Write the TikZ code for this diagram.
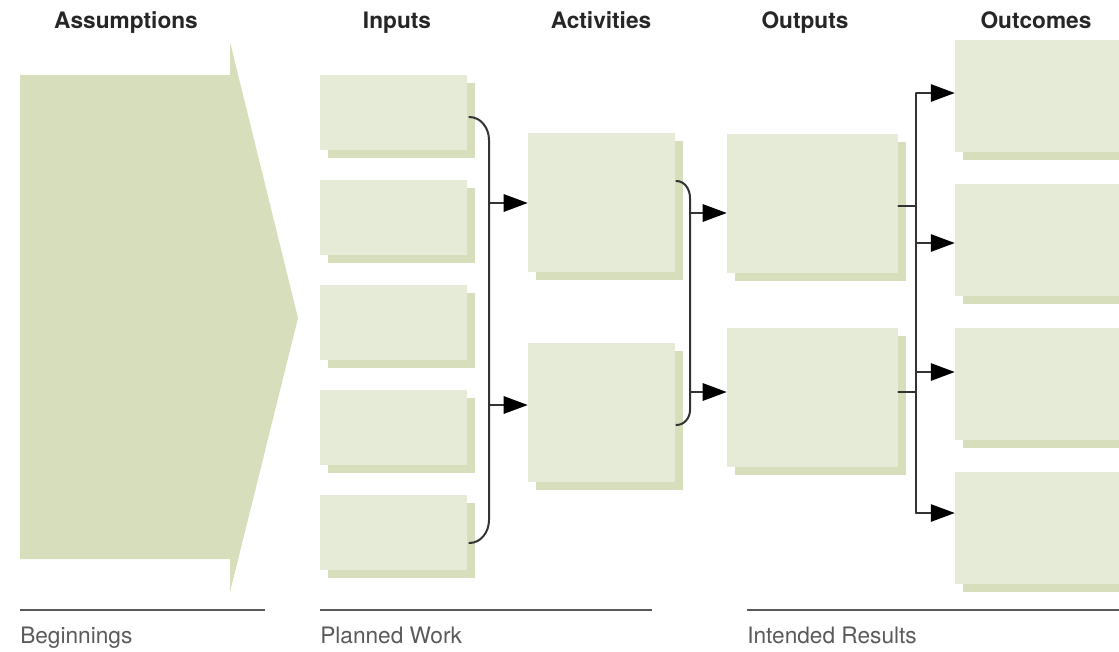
\documentclass[tikz,border=0pt]{standalone}
\usepackage{fontspec}
\setmainfont{TeX Gyre Heros}
\usetikzlibrary{arrows.meta, shadows, calc}

\definecolor{boxgreen}{HTML}{E6EBD8}
\definecolor{shadegreen}{HTML}{D6DEBB}
\definecolor{linegray}{HTML}{333333}
\definecolor{labelgray}{HTML}{5A5A5A}

\tikzset{
  card/.style={fill=boxgreen, inner sep=0pt,
    general shadow={fill=shadegreen, shadow xshift=6pt, shadow yshift=-6pt}},
  inbox/.style={card, minimum width=110.25pt, minimum height=56.25pt},
  actbox/.style={card, minimum width=110.25pt, minimum height=104.25pt},
  outbox/.style={card, minimum width=128.25pt, minimum height=104.25pt},
  resbox/.style={card, minimum width=135pt, minimum height=84pt},
  title/.style={font=\bfseries\fontsize{17}{20}\selectfont, text=black!85,
    inner sep=0pt, anchor=base},
  phase/.style={font=\fontsize{17}{20}\selectfont, text=labelgray,
    inner sep=0pt, anchor=base west},
  rule/.style={draw=gray!70!black, line width=2.2pt}
}

\begin{document}
\begin{tikzpicture}[x=0.75pt, y=-0.75pt,
  link/.style={draw=linegray, line width=1.5pt, line cap=round},
  arr/.style={draw=linegray, line width=1.5pt,
    -{Triangle[length=18pt,width=13pt,color=black]}}]
  \clip (0,0) rectangle (1119,651);
  %\draw[help lines,step=50] (0,0) grid (1119,651);

  % big arrow
  \fill[shadegreen] (20,75) -- (230,75) -- (230,42) -- (298,318)
    -- (230,592) -- (230,559) -- (20,559) -- cycle;

  % column titles
  \node[title] (tassume) at (126,28) {Assumptions};
  \node[title] (tin)     at (397,28) {Inputs};
  \node[title] (tact)    at (601,28) {Activities};
  \node[title] (tout)    at (805,28) {Outputs};
  \node[title] (tres)    at (1036,28) {Outcomes};

  % inputs
  \node[inbox] (in1) at (393.5,112.5) {};
  \node[inbox] (in2) at (393.5,217.5) {};
  \node[inbox] (in3) at (393.5,322.5) {};
  \node[inbox] (in4) at (393.5,427.5) {};
  \node[inbox] (in5) at (393.5,532.5) {};

  % activities
  \node[actbox] (act1) at (601.5,202.5) {};
  \node[actbox] (act2) at (601.5,412.5) {};

  % outputs
  \node[outbox] (out1) at (812.5,203.5) {};
  \node[outbox] (out2) at (812.5,397.5) {};

  % outcomes
  \node[resbox] (res1) at (1045,96) {};
  \node[resbox] (res2) at (1045,240) {};
  \node[resbox] (res3) at (1045,384) {};
  \node[resbox] (res4) at (1045,528) {};

  % inputs -> activities
  \draw[link] ($(in1.east)+(2,4.5)$) to[out=0,in=90] (489,140)
    -- (489,520) to[out=-90,in=0] ($(in5.east)+(2,10.5)$);
  \coordinate (ia1) at (489,203);
  \coordinate (ia2) at (489,405);
  \draw[arr] (ia1) -- (ia1 -| act1.west);
  \draw[arr] (ia2) -- (ia2 -| act2.west);

  % activities -> outputs
  \draw[link] ($(act1.east)+(1,-21.5)$) to[out=0,in=90] (690,198)
    -- (690,410) to[out=-90,in=0] ($(act2.east)+(1,12.5)$);
  \coordinate (ao1) at (690,213);
  \coordinate (ao2) at (690,392);
  \draw[arr] (ao1) -- (ao1 -| out1.west);
  \draw[arr] (ao2) -- (ao2 -| out2.west);

  % outputs -> outcomes
  \coordinate (trunk1) at (916,93);
  \coordinate (trunk2) at (916,243);
  \coordinate (trunk3) at (916,372);
  \coordinate (trunk4) at (916,513);
  \draw[link] (out1.east |- 0,206) -- (916,206);
  \draw[link] (out2.east |- 0,392) -- (916,392);
  \draw[link] (trunk1) -- (trunk4);
  \draw[arr] (trunk1) -- (trunk1 -| res1.west);
  \draw[arr] (trunk2) -- (trunk2 -| res2.west);
  \draw[arr] (trunk3) -- (trunk3 -| res3.west);
  \draw[arr] (trunk4) -- (trunk4 -| res4.west);

  % phases
  \draw[rule] (20,610) -- (265,610);
  \draw[rule] (320,610) -- (652,610);
  \draw[rule] (747,610) -- (1119,610);
  \node[phase] (pbegin)  at (20,643) {Beginnings};
  \node[phase] (pwork)   at (320,643) {Planned Work};
  \node[phase] (presult) at (747,643) {Intended Results};
\end{tikzpicture}
\end{document}
